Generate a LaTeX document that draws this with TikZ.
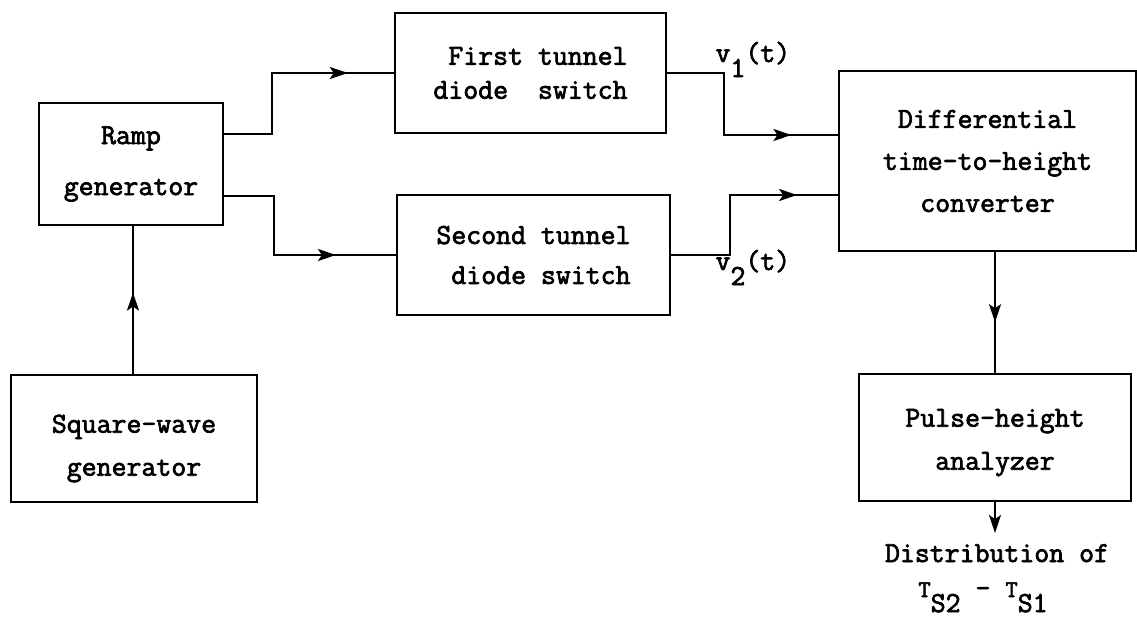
\documentclass[tikz,border=0pt]{standalone}
\usepackage{fontspec}
\newfontfamily\typefont{Latin Modern Mono}[FakeBold=2.4]
\usetikzlibrary{arrows.meta, calc, decorations.markings}

\begin{document}
\begin{tikzpicture}[x=1pt, y=-1pt, >={Stealth[length=18pt, width=12pt, inset=4pt]},
  every node/.style={font=\typefont\fontsize{29}{42}\selectfont},
  block/.style={draw, line width=2pt, align=center, inner sep=0pt},
  flow/.style={line width=2pt},
  tipat/.style={postaction={decorate}, decoration={markings, mark=at position #1 with {\arrow{Stealth[length=18pt, width=12pt, inset=4pt]}}}}]
  \useasboundingbox (0,0) rectangle (1137,621);
  \node[block, minimum width=184pt, minimum height=122pt] (ramp) at (131,164) {Ramp\\[9pt]generator};
  \node[block, minimum width=246pt, minimum height=127pt] (square) at (134,438.5) {\rule{0pt}{38pt}Square-wave\\[1pt]generator};
  \node[block, align=right, minimum width=271pt, minimum height=120pt] (first) at (530.5,73) {First tunnel\\[-8pt]diode\ \ switch};
  \node[block, align=right, minimum width=273pt, minimum height=120pt] (second) at (533.5,255) {Second tunnel\\[-2pt]diode switch};
  \node[block, minimum width=297pt, minimum height=180pt] (diff) at (987.5,161) {Differential\\time-to-height\\converter};
  \node[block, minimum width=272pt, minimum height=127pt] (pulse) at (995,437.5) {\rule{0pt}{28pt}Pulse-height\\[1pt]analyzer};
  \node[anchor=base west] (vone) at (712,62) {v\raisebox{-15pt}{1}(t)};
  \node[anchor=base west] (vtwo) at (712,270) {v\raisebox{-15pt}{2}(t)};
  \node[anchor=base] (dist) at (997,562) {Distribution of};
  \node[anchor=base, inner sep=0pt, outer sep=0pt] (tdiff) at (983,597) {{\fontsize{24}{24}\selectfont T}\raisebox{-15pt}{S2} - {\fontsize{24}{24}\selectfont T}\raisebox{-15pt}{S1}};
  % ramp outputs to the two switches
  \draw[flow, tipat=0.80] ([yshift=30pt]ramp.east) -- ++(48,0) |- (first.west);
  \draw[flow, tipat=0.74] ([yshift=-32pt]ramp.east) -- ++(50,0) |- (second.west);
  % switch outputs v1(t), v2(t)
  \draw[flow, tipat=0.80] (first.east) -- ++(57,0) |- ([yshift=26pt]diff.west);
  \draw[flow, tipat=0.82] (second.east) -- ++(59,0) |- ([yshift=-34pt]diff.west);
  \draw[flow, tipat=0.55] ([xshift=-1pt]square.north) -- ([xshift=-1pt]square.north |- ramp.south);
  \draw[flow, tipat=0.58] (pulse.north |- diff.south) -- (pulse.north);
  \draw[flow, ->] (pulse.south) -- ++(0,31);
\end{tikzpicture}
\end{document}
